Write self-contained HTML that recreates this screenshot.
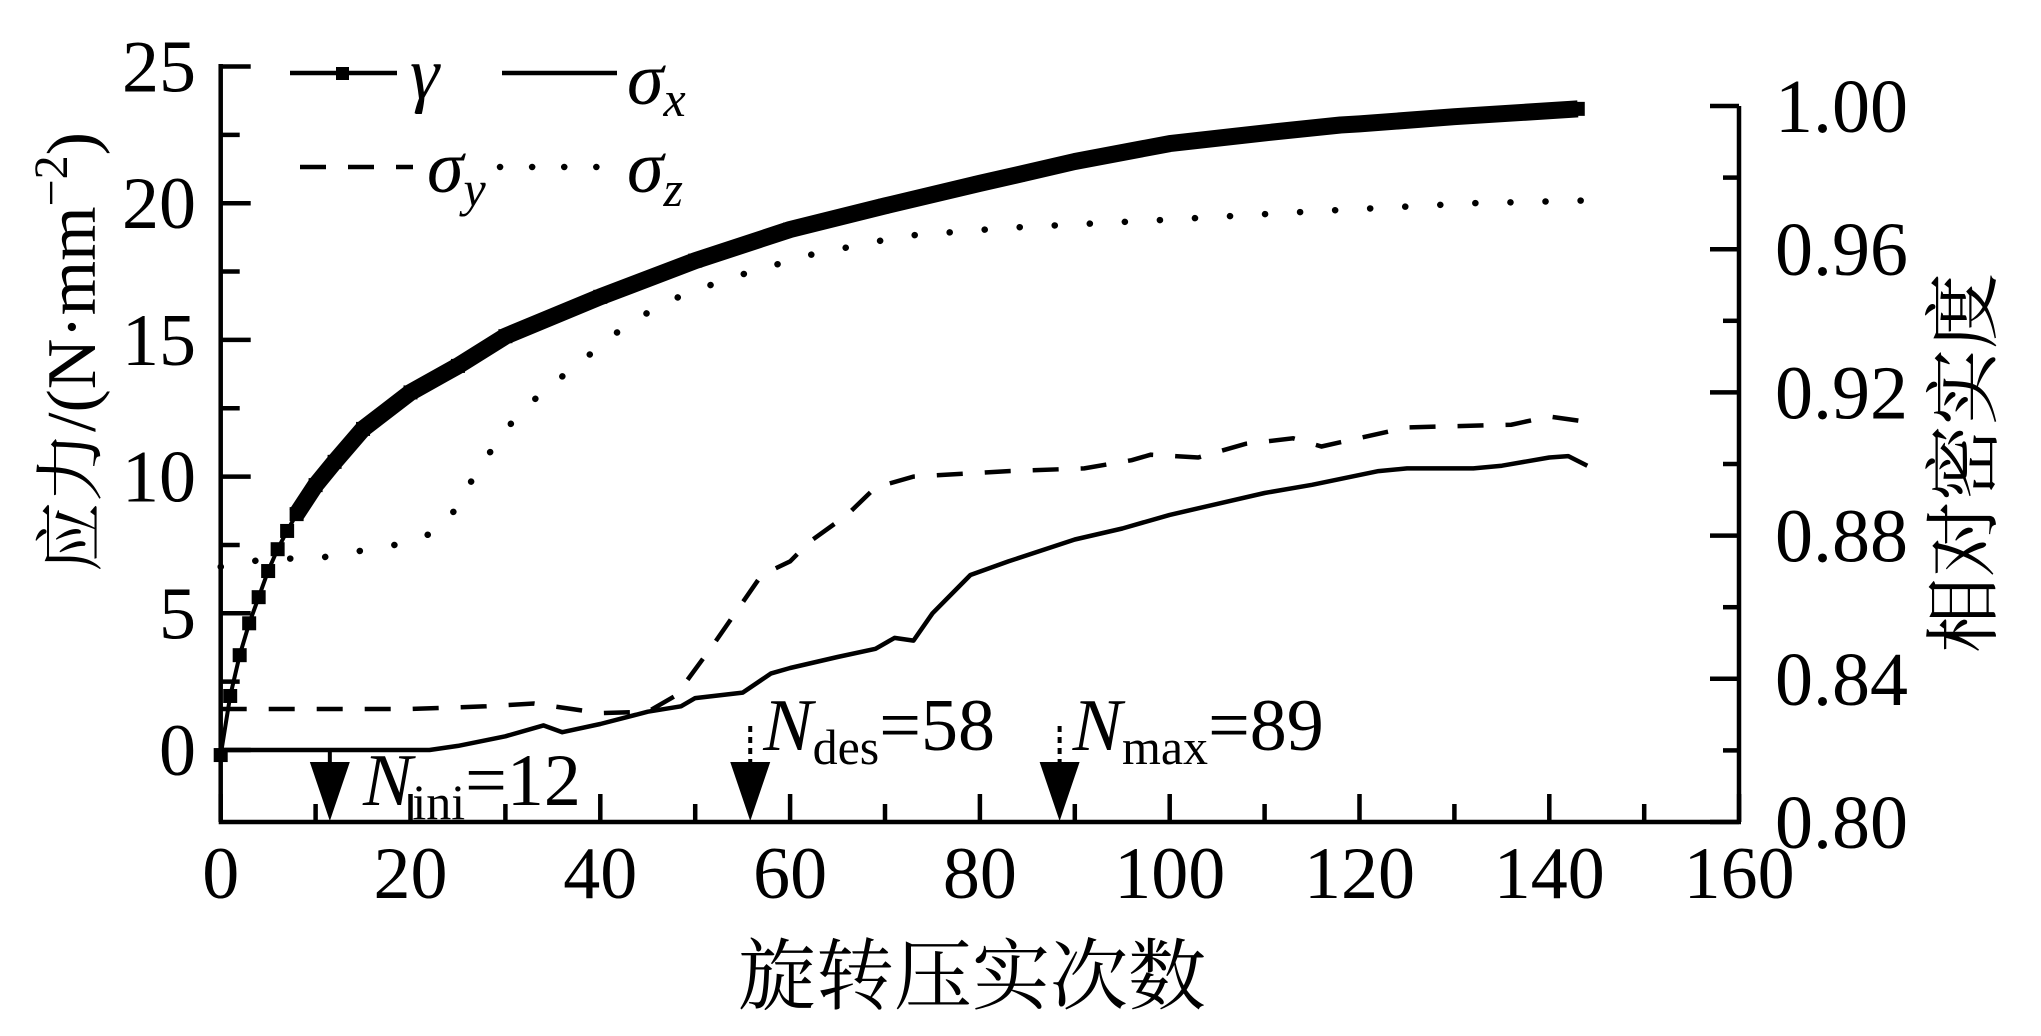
<!DOCTYPE html>
<html><head><meta charset="utf-8"><style>
html,body{margin:0;padding:0;background:#fff;}
svg{display:block;}
text{font-family:"Liberation Serif","Noto Serif CJK SC",serif;fill:#000;}
.cjk{font-family:"Liberation Serif","Noto Serif CJK SC","Noto Sans CJK SC",serif;}
</style></head><body>
<svg id="chart" width="2041" height="1036" viewBox="0 0 2041 1036" xmlns="http://www.w3.org/2000/svg" font-family="Liberation Serif, Noto Serif CJK SC, serif">
<g id="axes"></g>
<g id="series"></g>
<g id="annot"></g>
<g id="legend">
  <line x1="290" y1="73" x2="397" y2="73" stroke="#000" stroke-width="4.5"/>
  <rect x="336" y="67" width="13" height="13" fill="#000"/>
  <text x="410" y="98" font-size="74" font-style="italic">γ</text>
  <line x1="502" y1="73" x2="617" y2="73" stroke="#000" stroke-width="4.5"/>
  <text x="627" y="104" font-size="74" font-style="italic">σ<tspan font-size="50" dy="12">x</tspan></text>
  <line x1="300" y1="167" x2="413" y2="167" stroke="#000" stroke-width="4.5" stroke-dasharray="26 22"/>
  <text x="427" y="192" font-size="74" font-style="italic">σ<tspan font-size="50" dy="14">y</tspan></text>
  <line x1="500" y1="167" x2="597" y2="167" stroke="#000" stroke-width="6.5" stroke-linecap="round" stroke-dasharray="0.1 32"/>
  <text x="627" y="192" font-size="74" font-style="italic">σ<tspan font-size="50" dy="14">z</tspan></text>
</g>
</svg>
<script>
// ---- data ----
const gammaX = [0,1,2,3,4,5,6,7,8,10,12,15,20,25,30,40,50,60,70,80,84,90,100,110,118,120,130,143];
const gammaY = [0.8187,0.8352,0.8466,0.8555,0.8628,0.8701,0.8762,0.8813,0.886,0.8941,0.9006,0.9098,0.920,0.9274,0.9357,0.9467,0.9568,0.9655,0.9721,0.9784,0.9808,0.9845,0.9895,0.9925,0.9947,0.995,0.997,0.9992];
const sxX = [0,22,25,30,34,36,40,45,48.5,50,55,58,60,65,69,71,73,75,79,83,90,95,100,105,110,115,122,125,132,135,140,142,144];
const sxY = [0,0,0.15,0.5,0.9,0.65,0.95,1.4,1.6,1.9,2.1,2.8,3.0,3.4,3.7,4.1,4.0,5.0,6.4,6.9,7.7,8.1,8.6,9.0,9.4,9.7,10.2,10.3,10.3,10.4,10.7,10.75,10.4];
const syX = [0,20,28,33,40,45,48,52,57,60,62,66,69,73,83,91,96,98,103,108,113,116,125,136,140,144];
const syY = [1.5,1.5,1.6,1.7,1.35,1.4,2.0,3.9,6.4,6.9,7.6,8.6,9.6,10.0,10.2,10.3,10.6,10.8,10.7,11.2,11.4,11.1,11.8,11.9,12.2,12.0];
const szX = [0,5,10,15,20,22,24,26,28,30,32,35,38,41,45,49,55,62,72,83,100,115,132,144];
const szY = [6.7,7.0,7.0,7.3,7.6,7.9,8.4,9.6,10.7,11.7,12.5,13.4,14.2,15.1,16.0,16.7,17.4,18.1,18.8,19.1,19.4,19.7,20.0,20.1];
const xTicks = [0,20,40,60,80,100,120,140,160];
const yTicks = [0,5,10,15,20,25];
const rTicks = ["0.80","0.84","0.88","0.92","0.96","1.00"];
const markerX = [11.5,55.8,88.4];
const markerLabel = ["ini","des","max"];
const markerValue = ["12","58","89"];

// ---- scales ----
const X0=220.7, XK=9.49, Y0=750, YK=27.34, DB=822, DK=3580;
const sx = v => X0 + v*XK;
const sy = v => Y0 - v*YK;
const sd = v => DB - (v-0.8)*DK;
const NS="http://www.w3.org/2000/svg";
function mk(tag, attrs, parent){const e=document.createElementNS(NS,tag);for(const k in attrs)e.setAttribute(k,attrs[k]);parent.appendChild(e);return e;}
const axes=document.getElementById('axes'), series=document.getElementById('series'), annot=document.getElementById('annot');

let el;
el=mk('line',{x1:X0,y1:64,x2:X0,y2:DB,stroke:'#000','stroke-width':4.5},axes);


el=mk('line',{x1:1739,y1:106,x2:1739,y2:DB,stroke:'#000','stroke-width':4.5},axes);


el=mk('line',{x1:X0-2,y1:DB,x2:1741,y2:DB,stroke:'#000','stroke-width':4.5},axes);



xTicks.forEach((t,i)=>{
  const x=sx(t);
  el=mk('line',{x1:x,y1:DB,x2:x,y2:DB-28,stroke:'#000','stroke-width':4.5},axes);
  
  
  if(i<xTicks.length-1){
    el=mk('line',{x1:sx(t+10),y1:DB,x2:sx(t+10),y2:DB-18,stroke:'#000','stroke-width':4.5},axes);
    
    
  }
  el=mk('text',{x:x,y:898,'font-size':74,'text-anchor':'middle'},axes);
  el.textContent=t;
  
  
});
yTicks.forEach((t,i)=>{
  const y=sy(t);
  el=mk('line',{x1:X0,y1:y,x2:X0+30,y2:y,stroke:'#000','stroke-width':4.5},axes);
  
  
  if(i<yTicks.length-1){
    el=mk('line',{x1:X0,y1:sy(t+2.5),x2:X0+19,y2:sy(t+2.5),stroke:'#000','stroke-width':4.5},axes);
    
    
  }
  el=mk('text',{x:196,y:y+25,'font-size':74,'text-anchor':'end'},axes);
  el.textContent=t;
  
  
});
rTicks.forEach((t,i)=>{
  const v=parseFloat(t), y=sd(v);
  el=mk('line',{x1:1739,y1:y,x2:1710,y2:y,stroke:'#000','stroke-width':4.5},axes);
  
  
  if(i<rTicks.length-1){
    el=mk('line',{x1:1739,y1:sd(v+0.02),x2:1723,y2:sd(v+0.02),stroke:'#000','stroke-width':4.5},axes);
    
    
  }
  el=mk('text',{x:1775,y:y+26,'font-size':76},axes);
  el.textContent=t;
  
  
});
el=mk('text',{x:972,y:1003,'font-size':78,'text-anchor':'middle','class':'cjk'},axes);
el.textContent='旋转压实次数';


el=mk('text',{x:0,y:0,'font-size':70,'text-anchor':'middle','class':'cjk',transform:'translate(95,352) rotate(-90)'},axes);
el.innerHTML='应力/(N·mm<tspan font-size="48" dy="-28">−2</tspan><tspan dy="28">)</tspan>';


el=mk('text',{x:0,y:0,'font-size':76,'text-anchor':'middle','class':'cjk',transform:'translate(1990,463) rotate(-90)'},axes);
el.textContent='相对密实度';



function pathOf(xs,ys,fy){return xs.map((x,i)=>(i?'L':'M')+sx(x).toFixed(1)+' '+fy(ys[i]).toFixed(1)).join(' ');}
el=mk('path',{d:pathOf(sxX,sxY,sy),fill:'none',stroke:'#000','stroke-width':4.5,'stroke-linejoin':'round'},series);


el=mk('path',{d:pathOf(syX,syY,sy),fill:'none',stroke:'#000','stroke-width':4.5,'stroke-dasharray':'26 22'},series);


el=mk('path',{d:pathOf(szX,szY,sy),fill:'none',stroke:'#000','stroke-width':6.5,'stroke-linecap':'round','stroke-dasharray':'0.1 35'},series);


el=mk('path',{d:pathOf(gammaX,gammaY,sd),fill:'none',stroke:'#000','stroke-width':4},series);


const gx=gammaX.filter(x=>x>=8), gy=gammaY.slice(gammaX.length-gx.length);
el=mk('path',{d:pathOf(gx,gy,sd),fill:'none',stroke:'#000','stroke-width':17,'stroke-linejoin':'round'},series);


gammaX.forEach((x,i)=>{
  el=mk('rect',{x:sx(x)-7,y:sd(gammaY[i])-7,width:14,height:14,fill:'#000'},series);
  
  
});

markerX.forEach((m,i)=>{
  const x=sx(m);
  if(i===0){
    el=mk('line',{x1:x,y1:Y0,x2:x,y2:764,stroke:'#000','stroke-width':4},annot);
  } else {
    el=mk('line',{x1:x,y1:726,x2:x,y2:764,stroke:'#000','stroke-width':4,'stroke-dasharray':'6 5'},annot);
  }
  
  
  el=mk('polygon',{points:`${x-20},762 ${x+20},762 ${x},821`,fill:'#000'},annot);
  
  
  const lx = i===0 ? 363 : x+13, ly = i===0 ? 805 : 750;
  el=mk('text',{x:lx,y:ly,'font-size':74},annot);
  el.innerHTML='<tspan font-style="italic">N</tspan><tspan font-size="50" dy="14">'+markerLabel[i]+'</tspan><tspan dy="-14">='+markerValue[i]+'</tspan>';
  
  
});
</script>
</body></html>
